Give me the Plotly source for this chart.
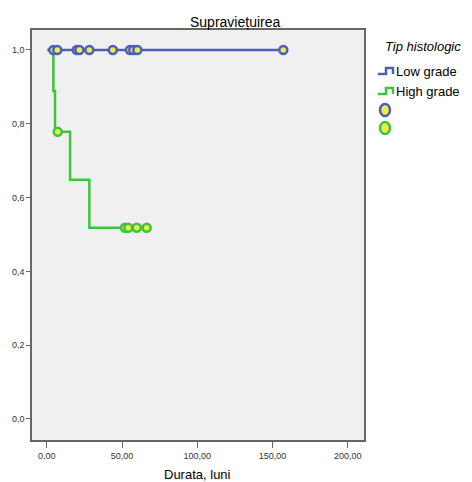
import plotly.graph_objects as go

# Kaplan-Meier step data
low_times = [0.5, 157.2]
low_surv = [1.0, 1.0]
low_cens_times = [4.4, 7.0, 19.9, 21.7, 28.3, 43.9, 55.3, 57.5, 60.2, 157.2]
low_cens_surv = [1.0] * len(low_cens_times)

high_times = [0.5, 4.4, 5.5, 15.5, 28.3, 66.4]
high_surv = [1.0, 0.889, 0.778, 0.648, 0.518, 0.518]
high_cens_times = [7.3, 52.0, 54.2, 59.8, 66.4]
high_cens_surv = [0.778, 0.518, 0.518, 0.518, 0.518]

x_ticks = [0, 50, 100, 150, 200]
y_ticks = [0.0, 0.2, 0.4, 0.6, 0.8, 1.0]

BLUE = "#4a5fb8"
GREEN = "#3cc43c"
YELLOW = "#ecec50"

fig = go.Figure()
fig.add_trace(go.Scatter(x=high_times, y=high_surv, mode="lines", line_shape="hv",
                         line=dict(color=GREEN, width=2.5), name="High grade", showlegend=False))
fig.add_trace(go.Scatter(x=low_times, y=low_surv, mode="lines", line_shape="hv",
                         line=dict(color=BLUE, width=2.5), name="Low grade", showlegend=False))
fig.add_trace(go.Scatter(x=high_cens_times, y=high_cens_surv, mode="markers",
                         marker=dict(size=8, color=YELLOW, line=dict(color=GREEN, width=2.5)),
                         showlegend=False))
fig.add_trace(go.Scatter(x=low_cens_times, y=low_cens_surv, mode="markers",
                         marker=dict(size=8, color=YELLOW, line=dict(color=BLUE, width=2.5)),
                         showlegend=False))

FONT = "Liberation Sans, Arial, sans-serif"

fig.update_layout(
    width=472, height=482,
    margin=dict(l=32, r=108, t=30, b=42),
    paper_bgcolor="white", plot_bgcolor="#f0f0f0",
    separators=",.",
    font=dict(family=FONT, color="#111", size=9),
    xaxis=dict(range=[-9.8, 210.8], tickvals=x_ticks, tickformat=".2f",
               showgrid=False, zeroline=False, showline=True, linecolor="#666", linewidth=1.5,
               mirror=True, ticks="outside", ticklen=6, tickcolor="#666",
               tickfont=dict(size=9, color="#333")),
    yaxis=dict(range=[-0.057, 1.054], tickvals=y_ticks, tickformat=".1f",
               showgrid=False, zeroline=False, showline=True, linecolor="#666", linewidth=1.5,
               mirror=True, ticks="outside", ticklen=4, tickcolor="#666",
               tickfont=dict(size=9, color="#333")),
    showlegend=False,
)

annotations = [
    dict(text="Supraviețuirea", x=235, y=482 - 22, size=14),
    dict(text="Durata, luni", x=197, y=482 - 474, size=13),
    dict(text="<i>Tip histologic</i>", x=423, y=482 - 46, size=13),
]

def px(xp):
    return (xp - 32) / (472 - 32 - 108)

def py(yp):
    return (482 - yp - 42) / (482 - 30 - 42)

for a in annotations:
    fig.add_annotation(text=a["text"], xref="paper", yref="paper",
                       x=px(a["x"]), y=py(482 - a["y"]),
                       showarrow=False, font=dict(size=a["size"], color="#000", family=FONT),
                       xanchor="center", yanchor="middle")

# Custom legend
legend_items = [("Low grade", BLUE, 71), ("High grade", GREEN, 91)]
for label, col, yc in legend_items:
    path = (f"M {px(378)},{py(yc+3)} L {px(386)},{py(yc+3)} L {px(386)},{py(yc-3)} "
            f"L {px(393)},{py(yc-3)} L {px(393)},{py(yc+3)}")
    fig.add_shape(type="path", path=path, xref="paper", yref="paper",
                  line=dict(color=col, width=2.5))
    fig.add_annotation(text=label, xref="paper", yref="paper", x=px(394), y=py(yc),
                       showarrow=False, xanchor="left", yanchor="middle",
                       font=dict(size=13, color="#000", family=FONT))
for col, yc in [(BLUE, 110), (GREEN, 128)]:
    fig.add_shape(type="circle", xref="paper", yref="paper",
                  x0=px(380), x1=px(390), y0=py(yc + 6), y1=py(yc - 6),
                  line=dict(color=col, width=2.5), fillcolor=YELLOW)

fig.write_html("out.html")
